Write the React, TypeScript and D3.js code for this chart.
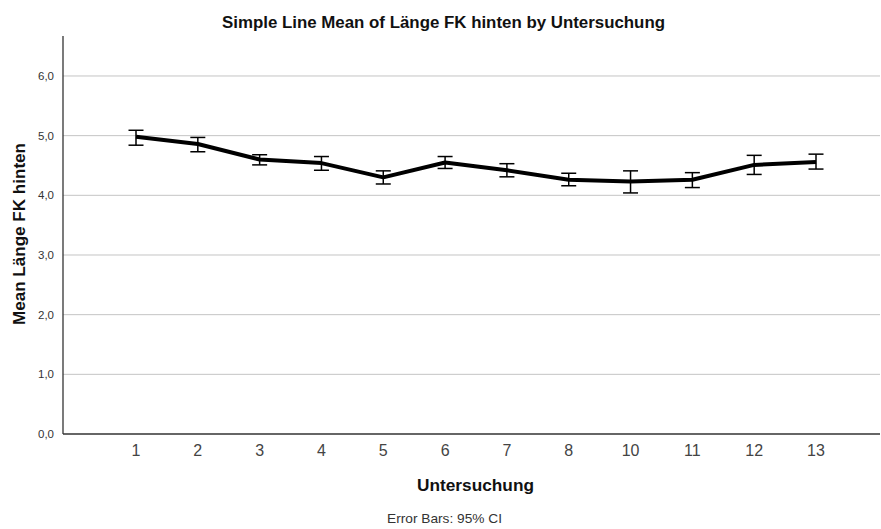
import React from "react";
import * as d3 from "d3";

const categories = ["1", "2", "3", "4", "5", "6", "7", "8", "10", "11", "12", "13"];
const means = [4.98, 4.86, 4.60, 4.54, 4.30, 4.55, 4.42, 4.26, 4.23, 4.26, 4.51, 4.56];
const ciLow = [4.84, 4.73, 4.51, 4.42, 4.19, 4.45, 4.31, 4.16, 4.04, 4.13, 4.35, 4.44];
const ciHigh = [5.09, 4.97, 4.68, 4.65, 4.41, 4.65, 4.53, 4.37, 4.41, 4.38, 4.67, 4.69];
const yTicks = [0, 1, 2, 3, 4, 5, 6];

const W = 881;
const H = 529;
const left = 63;
const right = 880;
const top = 36;
const bottom = 434;

export default function App() {
  const x = d3.scalePoint<string>().domain(categories).range([136, 816]);
  const y = d3.scaleLinear().domain([0, 6.67]).range([bottom, top]);
  const fmt = (v: number) => d3.format(".1f")(v).replace(".", ",");
  const line = d3
    .line<number>()
    .x((_, i) => x(categories[i]) as number)
    .y((d) => y(d));
  const font = "'Liberation Sans', Arial, sans-serif";
  return (
    <svg
      width={W}
      height={H}
      style={{ position: "fixed", left: 0, top: 0, background: "#fff" }}
      fontFamily={font}
    >
      <rect x={0} y={0} width={W} height={H} fill="#fff" />
      <text x={443.5} y={28} textAnchor="middle" fontSize={16} fontWeight="bold" fill="#111"
        textLength={443} lengthAdjust="spacingAndGlyphs">
        Simple Line Mean of Länge FK hinten by Untersuchung
      </text>
      {yTicks.map((t) => (
        <g key={t}>
          {t > 0 && (
            <line x1={left} x2={right} y1={y(t)} y2={y(t)} stroke="#c4c4c4" strokeWidth={1} />
          )}
          <text x={54} y={y(t) + 4} textAnchor="end" fontSize={11.5} fill="#333">
            {fmt(t)}
          </text>
        </g>
      ))}
      <line x1={left} x2={left} y1={top} y2={bottom} stroke="#333" strokeWidth={1.3} />
      <line x1={left} x2={right} y1={bottom} y2={bottom} stroke="#333" strokeWidth={1.3} />
      {categories.map((c) => (
        <text key={c} x={x(c)} y={456} textAnchor="middle" fontSize={16} fill="#444">
          {c}
        </text>
      ))}
      <path d={line(means) as string} fill="none" stroke="#000" strokeWidth={4} strokeLinejoin="round" />
      {categories.map((c, i) => {
        const cx = x(c) as number;
        return (
          <g key={c} stroke="#000" strokeWidth={1.5}>
            <line x1={cx} x2={cx} y1={y(ciLow[i])} y2={y(ciHigh[i])} />
            <line x1={cx - 7.5} x2={cx + 7.5} y1={y(ciLow[i])} y2={y(ciLow[i])} />
            <line x1={cx - 7.5} x2={cx + 7.5} y1={y(ciHigh[i])} y2={y(ciHigh[i])} />
          </g>
        );
      })}
      <text x={475.5} y={491} textAnchor="middle" fontSize={16.5} fontWeight="bold" fill="#111"
        textLength={117} lengthAdjust="spacingAndGlyphs">
        Untersuchung
      </text>
      <text
        transform={`translate(25,234) rotate(-90)`}
        textAnchor="middle"
        fontSize={16}
        fontWeight="bold"
        fill="#111"
        textLength={182}
        lengthAdjust="spacingAndGlyphs"
      >
        Mean Länge FK hinten
      </text>
      <text x={444.5} y={523} textAnchor="middle" fontSize={13} fill="#333"
        textLength={115} lengthAdjust="spacingAndGlyphs">
        Error Bars: 95% CI
      </text>
    </svg>
  );
}
